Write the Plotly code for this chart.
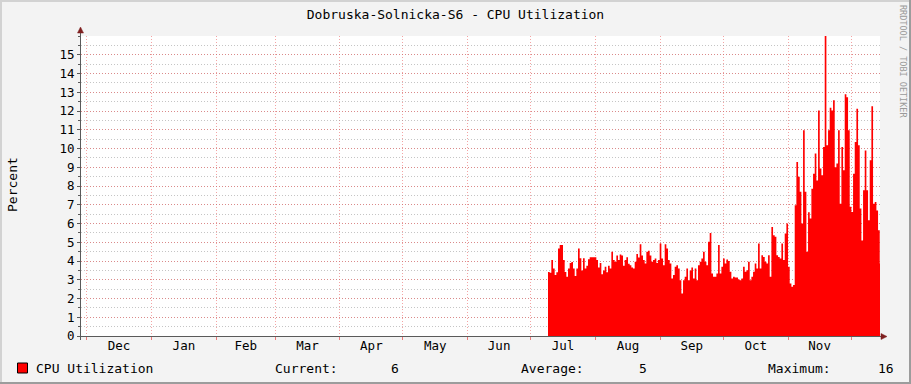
import pandas as pd
import plotly.graph_objects as go

# ---------------- data ----------------
title_text = "Dobruska-Solnicka-S6 - CPU Utilization"
y_label = "Percent"
watermark = "RRDTOOL / TOBI OETIKER"
series_name = "CPU Utilization"
month_labels = ["Dec", "Jan", "Feb", "Mar", "Apr", "May", "Jun",
                "Jul", "Aug", "Sep", "Oct", "Nov"]
month_first = "2012-12-01"
y_tick_values = list(range(0, 16))
stat_labels = ["Current:", "Average:", "Maximum:"]
stat_values = ["6", "5", "16"]

x_range = ["2012-11-28 09:00", "2013-12-14 20:00"]
y_range = [0, 16]

data_start = "2013-07-09 08:00"
data_step = "1146min"
cpu_values = [
    3.42, 3.37, 4.05, 3.6, 3.25, 3.4, 4.67, 4.85, 4.85, 4.05,
    3.42, 3.16, 3.6, 3.9, 3.95, 3.6, 3.2, 3.6, 4.67, 4.15,
    3.5, 4.15, 3.6, 3.75, 4.1, 4.2, 4.2, 4.2, 4.2, 4.05,
    3.65, 3.9, 3.3, 3.5, 3.7, 3.4, 3.75, 3.6, 4.5, 4.05,
    3.95, 4.3, 4.05, 4.35, 4.3, 3.75, 4.05, 4.2, 3.85,
    3.78, 3.66, 3.6, 3.96, 4.37, 4.19, 4.9, 4.3, 4.05, 3.87,
    4.5, 4.55, 4.3, 3.96, 4.05, 4.14, 3.9, 4.05, 4.94, 4.14,
    3.78, 4.9, 4.67, 4.05, 3.87, 3.07, 3.25, 3.7, 3.78, 3.6,
    2.98, 2.27, 2.98, 3.16, 3.6, 2.98, 3.5, 3.66, 3.07, 3.6,
    2.98, 3.78, 3.96, 4.14, 4.5, 3.96, 3.78, 5.03, 5.5, 3.34, 3.16,
    3.16, 3.34, 4.85, 3.34, 3.7, 4.14, 3.87, 4.08, 4.0, 3.43,
    3.07, 3.16, 3.12, 3.12, 3.02, 2.98, 3.07, 3.7, 3.43, 3.51,
    3.96, 2.98, 3.16, 3.43, 3.87, 3.6, 4.93, 3.6, 4.31, 4.22,
    3.96, 3.87, 4.31, 3.16, 5.82, 5.38, 5.29, 4.31, 4.22, 4.14,
    4.93, 4.05, 5.47, 6.0, 3.7, 2.8, 2.63,
    2.72, 6.98, 9.28, 8.5, 7.7, 6.0, 10.97, 7.7, 4.5, 6.6,
    6.27, 7.86, 8.66, 9.73, 8.3, 12.03, 8.93, 8.57, 10.08, 16.0,
    10.17, 10.97, 12.18, 12.03, 12.57, 9.0, 9.2, 10.97, 7.06, 10.08,
    8.84, 12.89, 12.74, 10.97, 6.89, 6.62, 8.66, 10.35, 12.12, 10.17,
    6.8, 5.1, 7.77, 9.9, 7.77, 6.18, 9.37, 12.25, 7.06, 7.15,
    6.7, 5.64, 3.87,
]

# ---------------- layout constants ----------------
W, H = 911, 384
ML, MR, MT, MB = 81, 31, 36, 48
PW, PH = W - ML - MR, H - MT - MB

FONT = "DejaVu Sans Mono"
RED = "#FF0000"
MGRID = "rgba(235,90,90,0.55)"
GRID = "rgba(150,150,150,0.55)"
AXIS = "#5A5A5A"
ARROW = "#7F1F1F"


def px2x(px):
    return (px - ML) / PW


def px2y(py):
    return (H - MB - py) / PH


# x positions for the step area (one extra step closes the last bar)
times = pd.date_range(data_start, periods=len(cpu_values) + 1, freq=data_step)
y_step = cpu_values + [cpu_values[-1]]

month_starts = pd.date_range(month_first, periods=len(month_labels) + 1, freq="MS")
month_mids = [month_starts[i] + (month_starts[i + 1] - month_starts[i]) / 2
              for i in range(len(month_labels))]

fig = go.Figure()
fig.add_trace(go.Scatter(
    x=times, y=y_step, mode="lines", line=dict(shape="hv", width=0, color=RED),
    fill="tozeroy", fillcolor=RED, name=series_name, hoverinfo="skip",
    showlegend=False,
))

shapes = []
# 3D frame
shapes.append(dict(type="rect", xref="paper", yref="paper", x0=px2x(0), x1=px2x(W),
                   y0=px2y(0), y1=px2y(2), fillcolor="#D2D2D2", line=dict(width=0), layer="above"))
shapes.append(dict(type="rect", xref="paper", yref="paper", x0=px2x(0), x1=px2x(2),
                   y0=px2y(0), y1=px2y(H), fillcolor="#D2D2D2", line=dict(width=0), layer="above"))
shapes.append(dict(type="rect", xref="paper", yref="paper", x0=px2x(0), x1=px2x(W),
                   y0=px2y(H - 2), y1=px2y(H), fillcolor="#9C9C9C", line=dict(width=0), layer="above"))
shapes.append(dict(type="rect", xref="paper", yref="paper", x0=px2x(W - 2), x1=px2x(W),
                   y0=px2y(0), y1=px2y(H), fillcolor="#9C9C9C", line=dict(width=0), layer="above"))
# axis lines
shapes.append(dict(type="line", xref="paper", yref="paper", x0=px2x(80.5), x1=px2x(80.5),
                   y0=px2y(340), y1=px2y(31), line=dict(color=AXIS, width=1), layer="above"))
shapes.append(dict(type="line", xref="paper", yref="paper", x0=px2x(77), x1=px2x(883),
                   y0=px2y(336.5), y1=px2y(336.5), line=dict(color=AXIS, width=1), layer="above"))
# arrows
shapes.append(dict(type="path", xref="paper", yref="paper",
                   path=f"M {px2x(80.5)} {px2y(27)} L {px2x(77.5)} {px2y(33)} L {px2x(83.5)} {px2y(33)} Z",
                   fillcolor=ARROW, line=dict(color=ARROW, width=0.5), layer="above"))
shapes.append(dict(type="path", xref="paper", yref="paper",
                   path=f"M {px2x(887)} {px2y(336.5)} L {px2x(881)} {px2y(333.5)} L {px2x(881)} {px2y(339.5)} Z",
                   fillcolor=ARROW, line=dict(color=ARROW, width=0.5), layer="above"))
# legend swatch
shapes.append(dict(type="rect", xref="paper", yref="paper", x0=px2x(17.5), x1=px2x(27.5),
                   y0=px2y(373), y1=px2y(363), fillcolor=RED, line=dict(color="#000000", width=1),
                   layer="above"))

annotations = []
annotations.append(dict(text=y_label, xref="paper", yref="paper", x=px2x(12), y=px2y(185),
                        textangle=-90, showarrow=False, xanchor="center", yanchor="middle",
                        font=dict(family=FONT, size=13, color="#000000")))
annotations.append(dict(text=watermark, xref="paper", yref="paper", x=px2x(903), y=px2y(61),
                        textangle=90, showarrow=False, xanchor="center", yanchor="middle",
                        font=dict(family=FONT, size=8.5, color="#9A9A9A")))
legend_y = px2y(368)
annotations.append(dict(text=series_name, xref="paper", yref="paper", x=px2x(34), y=legend_y,
                        showarrow=False, xanchor="left", yanchor="middle",
                        font=dict(family=FONT, size=13, color="#000000")))
label_px = [273, 519, 766]
value_px = [395, 643, 886]
for lab, val, lx, vx in zip(stat_labels, stat_values, label_px, value_px):
    annotations.append(dict(text=lab, xref="paper", yref="paper", x=px2x(lx), y=legend_y,
                            showarrow=False, xanchor="left", yanchor="middle",
                            font=dict(family=FONT, size=13, color="#000000")))
    annotations.append(dict(text=val, xref="paper", yref="paper", x=px2x(vx), y=legend_y,
                            showarrow=False, xanchor="center", yanchor="middle",
                            font=dict(family=FONT, size=13, color="#000000")))

fig.update_layout(
    width=W, height=H, autosize=False,
    margin=dict(l=ML, r=MR, t=MT, b=MB, pad=0),
    paper_bgcolor="#F3F3F3", plot_bgcolor="#FFFFFF",
    showlegend=False, hovermode=False,
    title=dict(text=title_text, xref="container", yref="container", x=0.5,
               y=1 - 14 / H, xanchor="center", yanchor="middle",
               font=dict(family=FONT, size=13, color="#000000")),
    shapes=shapes, annotations=annotations,
    xaxis=dict(
        type="date", range=x_range, fixedrange=True,
        tickmode="array", tickvals=month_mids, ticktext=month_labels,
        ticks="", showgrid=False, zeroline=False, showline=False,
        tickfont=dict(family=FONT, size=12.5, color="#000000"),
        minor=dict(tickmode="linear", tick0=month_first, dtick="M1",
                   showgrid=True, gridcolor=MGRID, griddash="1px,2px", gridwidth=1,
                   ticks="outside", ticklen=3, tickcolor="rgba(235,90,90,0.8)"),
    ),
    yaxis=dict(
        range=y_range, fixedrange=True,
        tickmode="array", tickvals=y_tick_values,
        ticks="outside", ticklen=3, tickcolor=AXIS,
        showgrid=True, gridcolor=MGRID, griddash="1px,2px", gridwidth=1,
        zeroline=False, showline=False,
        tickfont=dict(family=FONT, size=12.5, color="#000000"),
        minor=dict(tickmode="linear", tick0=0, dtick=0.5,
                   showgrid=True, gridcolor=GRID, griddash="1px,2px", gridwidth=1,
                   ticks="outside", ticklen=2, tickcolor=AXIS),
    ),
)

fig.write_html("out.html")
